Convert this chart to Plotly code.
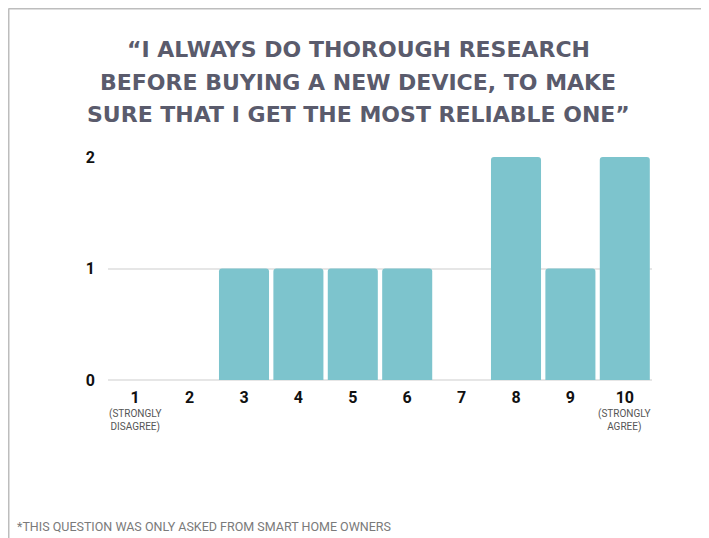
import plotly.graph_objects as go

categories = ["1", "2", "3", "4", "5", "6", "7", "8", "9", "10"]
counts = [0, 0, 1, 1, 1, 1, 0, 2, 1, 2]
y_ticks = [0, 1, 2]
title_lines = [
    "“I ALWAYS DO THOROUGH RESEARCH",
    "BEFORE BUYING A NEW DEVICE, TO MAKE",
    "SURE THAT I GET THE MOST RELIABLE ONE”",
]
end_label_idx = [0, 9]
end_label_text = ["(STRONGLY<br>DISAGREE)", "(STRONGLY<br>AGREE)"]
footnote = "*THIS QUESTION WAS ONLY ASKED FROM SMART HOME OWNERS"

# page has an 8px body margin; lay out in window pixels and subtract it
OFF = 8
W, H = 709 - OFF, 538 - OFF
L, R, T, B = 108 - OFF, 57, 157 - OFF, 158
pw, ph = W - L - R, H - T - B

def px_x(x):
    return (x - OFF - L) / pw

def px_y(y):
    return (H - B - (y - OFF)) / ph

fig = go.Figure(go.Bar(
    x=categories, y=counts,
    marker=dict(color="#7dc4cd", cornerradius=3, line=dict(width=0)),
    hoverinfo="x+y",
))

annotations = []
for i, line in enumerate(title_lines):
    annotations.append(dict(
        text=line, xref="paper", yref="paper",
        x=px_x(358), y=px_y(50 + i * 32.5),
        xanchor="center", yanchor="middle", showarrow=False,
        font=dict(family="DejaVu Sans", size=22, color="#5a5b6c", weight="bold"),
    ))
for idx, lab in zip(end_label_idx, end_label_text):
    annotations.append(dict(
        text=lab, x=idx, xref="x", yref="paper", y=px_y(406),
        xanchor="center", yanchor="top", showarrow=False,
        font=dict(family="Roboto", size=10, color="#555555"),
    ))
annotations.append(dict(
    text=footnote, xref="paper", yref="paper",
    x=px_x(15), y=px_y(526), xanchor="left", yanchor="middle", showarrow=False,
    font=dict(family="Roboto", size=12.5, color="#7a7a7a"),
))

shapes = [
    dict(type="line", xref="paper", yref="paper",
         x0=px_x(8.5), x1=px_x(709), y0=px_y(8.75), y1=px_y(8.75),
         line=dict(color="#bdbdbd", width=1.5)),
    dict(type="line", xref="paper", yref="paper",
         x0=px_x(8.75), x1=px_x(8.75), y0=px_y(8.5), y1=px_y(538),
         line=dict(color="#bdbdbd", width=1.5)),
]

fig.update_layout(
    width=W, height=H,
    margin=dict(l=L, r=R, t=T, b=B),
    paper_bgcolor="white", plot_bgcolor="white",
    bargap=0.08,
    showlegend=False,
    annotations=annotations,
    shapes=shapes,
    xaxis=dict(
        type="category", range=[-0.5, 9.5], showgrid=False, zeroline=False, showline=False,
        ticks="", tickfont=dict(family="Roboto", size=16, color="#111111", weight="bold"),
        ticklabelstandoff=6,
    ),
    yaxis=dict(
        range=[0, 2], tickvals=y_ticks, showgrid=True, gridcolor="#e6e6e6", gridwidth=1.5,
        zeroline=True, zerolinecolor="#e6e6e6", zerolinewidth=1.5, showline=False,
        ticks="", tickfont=dict(family="Roboto", size=16, color="#111111", weight="bold"),
        ticklabelstandoff=12,
    ),
)

fig.write_html("out.html")
